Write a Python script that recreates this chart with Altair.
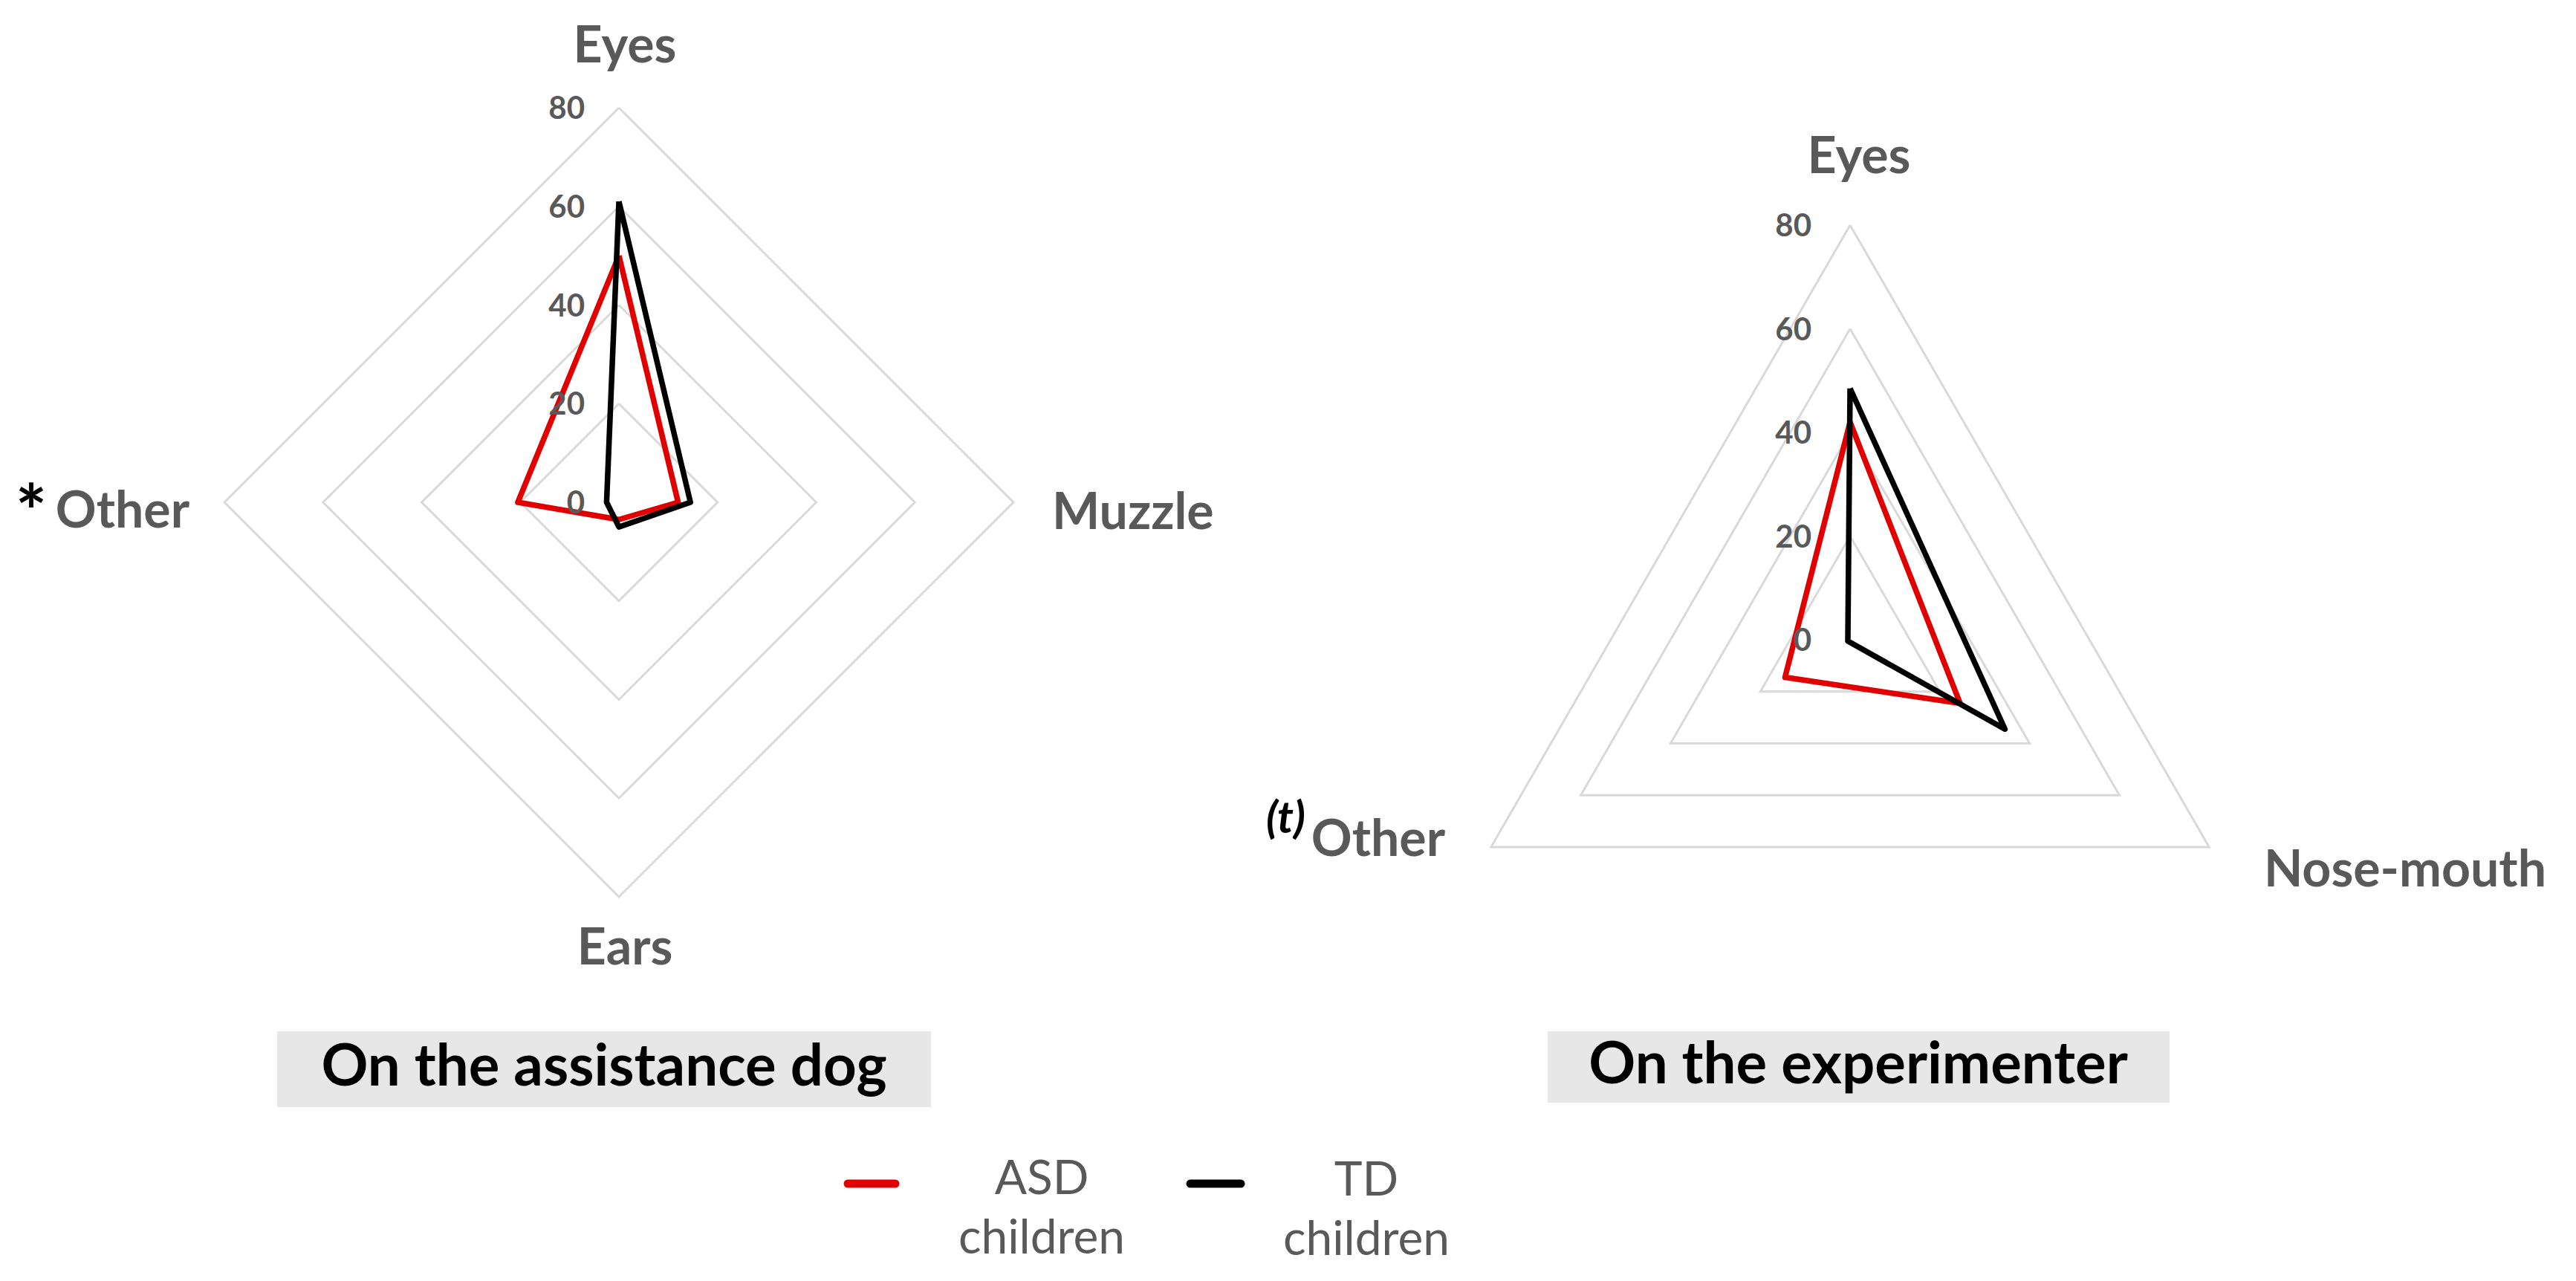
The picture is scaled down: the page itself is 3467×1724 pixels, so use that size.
import altair as alt
import pandas as pd

# ---------------- data ----------------
dog_axes = ["Eyes", "Muzzle", "Ears", "Other"]
dog_asd = [50, 12, 3.5, 20.5]
dog_td = [61, 14.5, 5, 2.5]

exp_axes = ["Eyes", "Nose-mouth", "Other"]
exp_asd = [42, 24.5, 14.5]
exp_td = [48.5, 34.5, 0.5]

ring_levels = [20, 40, 60, 80]
tick_values = [0, 20, 40, 60, 80]
series_names = ["ASD children", "TD children"]
series_colors = ["#e00000", "#000000"]
legend_texts = ["ASD\nchildren", "TD\nchildren"]
panel_titles = ["On the assistance dog", "On the experimenter"]
label_prefix = {"dog": "*", "exp": "(t)"}

# ---------------- layout (pixel positions, not data) ----------------
panels = {
    "dog": dict(cx=833, cy=676, k=531 / 80, tick_dx=46),
    "exp": dict(cx=2490, cy=861, k=558 / 80, tick_dx=52),
}
label_pos = {
    ("dog", "Eyes"): (841, 84, "center"),
    ("dog", "Muzzle"): (1416, 712, "left"),
    ("dog", "Ears"): (841, 1298, "center"),
    ("dog", "Other"): (255, 710, "right"),
    ("exp", "Eyes"): (2502, 233, "center"),
    ("exp", "Nose-mouth"): (3047, 1193, "left"),
    ("exp", "Other"): (1945, 1152, "right"),
}
prefix_pos = {"dog": (42, 725, 100, "normal"), "exp": (1757, 1121, 60, "italic")}
title_boxes = [(373, 1253, 1388, 1490, 813, 1461), (2083, 2920, 1388, 1484, 2501, 1458)]
legend_lines = [(1141, 1205, 1593), (1602, 1670, 1593)]
legend_text_pos = [(1402, 1607), (1839, 1609)]

GRAY = "#595959"
FONT = "Lato"

# ---------------- tables ----------------
def poly_rows(panel, axes, values, series):
    n = len(axes)
    lay = panels[panel]
    rows = []
    for i in range(n + 1):
        j = i % n
        rows.append(dict(panel=panel, series=series, grp=f"{panel}-{series}", ord=i,
                         idx=j, n=n, value=values[j], cx=lay["cx"], cy=lay["cy"], k=lay["k"]))
    return rows

series_rows = []
series_rows += poly_rows("dog", dog_axes, dog_asd, series_names[0])
series_rows += poly_rows("dog", dog_axes, dog_td, series_names[1])
series_rows += poly_rows("exp", exp_axes, exp_asd, series_names[0])
series_rows += poly_rows("exp", exp_axes, exp_td, series_names[1])
series_df = pd.DataFrame(series_rows)

grid_rows = []
for panel, axes in (("dog", dog_axes), ("exp", exp_axes)):
    for lv in ring_levels:
        grid_rows += poly_rows(panel, axes, [lv] * len(axes), f"ring{lv}")
grid_df = pd.DataFrame(grid_rows)

proj = dict(
    px="datum.cx + datum.value * datum.k * sin(2 * PI * datum.idx / datum.n)",
    py="datum.cy - datum.value * datum.k * cos(2 * PI * datum.idx / datum.n)",
)

tick_rows = []
for panel, lay in panels.items():
    for v in tick_values:
        tick_rows.append(dict(panel=panel, value=v, label=str(v), cx=lay["cx"], cy=lay["cy"],
                              k=lay["k"], dx=lay["tick_dx"]))
tick_df = pd.DataFrame(tick_rows)

lab_rows = []
for (panel, name), (x, y, al) in label_pos.items():
    lab_rows.append(dict(panel=panel, label=name, px=x, py=y, al=al))
lab_df = pd.DataFrame(lab_rows)

X = alt.X("px:Q", scale=alt.Scale(domain=[8, 3459], nice=False, zero=False), axis=None)
Y = alt.Y("py:Q", scale=alt.Scale(domain=[8, 1716], nice=False, zero=False, reverse=True), axis=None)

layers = []

# grid rings
layers.append(
    alt.Chart(grid_df).transform_calculate(**proj).mark_line(
        color="#d9d9d9", strokeWidth=3, strokeJoin="miter"
    ).encode(x=X, y=Y, detail="grp:N", order="ord:Q")
)

# series polygons (red below, black on top)
for name, col in zip(series_names, series_colors):
    layers.append(
        alt.Chart(series_df[series_df.series == name]).transform_calculate(**proj).mark_line(
            color=col, strokeWidth=7.5, strokeJoin="round"
        ).encode(x=X, y=Y, detail="grp:N", order="ord:Q")
    )

# radial tick labels
layers.append(
    alt.Chart(tick_df).transform_calculate(
        px="datum.cx - datum.dx", py="datum.cy - datum.value * datum.k"
    ).mark_text(font=FONT, fontSize=42, fontWeight="bold", color=GRAY, align="right",
                baseline="alphabetic", dy=15).encode(x=X, y=Y, text="label:N")
)

# category labels
for al in ("left", "center", "right"):
    sub = lab_df[lab_df.al == al]
    layers.append(
        alt.Chart(sub).mark_text(font=FONT, fontSize=68, fontWeight="bold", color=GRAY,
                                 align=al, baseline="alphabetic").encode(x=X, y=Y, text="label:N")
    )

# significance prefixes
for panel, sym in label_prefix.items():
    x, y, fs, style = prefix_pos[panel]
    layers.append(
        alt.Chart(pd.DataFrame([dict(px=x, py=y, label=sym)])).mark_text(
            font=FONT, fontSize=fs, fontWeight="bold", fontStyle=style, color="#000000",
            align="right" if panel == "exp" else "center", baseline="alphabetic"
        ).encode(x=X, y=Y, text="label:N")
    )

# title boxes
box_df = pd.DataFrame([dict(px=b[0], px2=b[1], py=b[2], py2=b[3]) for b in title_boxes])
layers.append(
    alt.Chart(box_df).mark_rect(color="#e7e7e7").encode(x=X, x2="px2:Q", y=Y, y2="py2:Q")
)
ttl_df = pd.DataFrame([dict(px=b[4], py=b[5], label=t) for b, t in zip(title_boxes, panel_titles)])
layers.append(
    alt.Chart(ttl_df).mark_text(font=FONT, fontSize=78, fontWeight="bold", color="#000000",
                                align="center", baseline="alphabetic").encode(x=X, y=Y, text="label:N")
)

# legend
for (x1, x2, y), col in zip(legend_lines, series_colors):
    layers.append(
        alt.Chart(pd.DataFrame([dict(px=x1, px2=x2, py=y)])).mark_rule(
            color=col, strokeWidth=11, strokeCap="round"
        ).encode(x=X, x2="px2:Q", y=Y)
    )
leg_df = pd.DataFrame([dict(px=p[0], py=p[1], label=t) for p, t in zip(legend_text_pos, legend_texts)])
layers.append(
    alt.Chart(leg_df).mark_text(font=FONT, fontSize=64, color=GRAY, align="center",
                                baseline="alphabetic", lineBreak="\n", lineHeight=80
    ).encode(x=X, y=Y, text="label:N")
)

chart = alt.layer(*layers).properties(width=3451, height=1708, padding=0,
                                      background="#ffffff").configure_view(stroke=None)

chart.save("out.html", embed_options={"renderer": "svg", "actions": False})
